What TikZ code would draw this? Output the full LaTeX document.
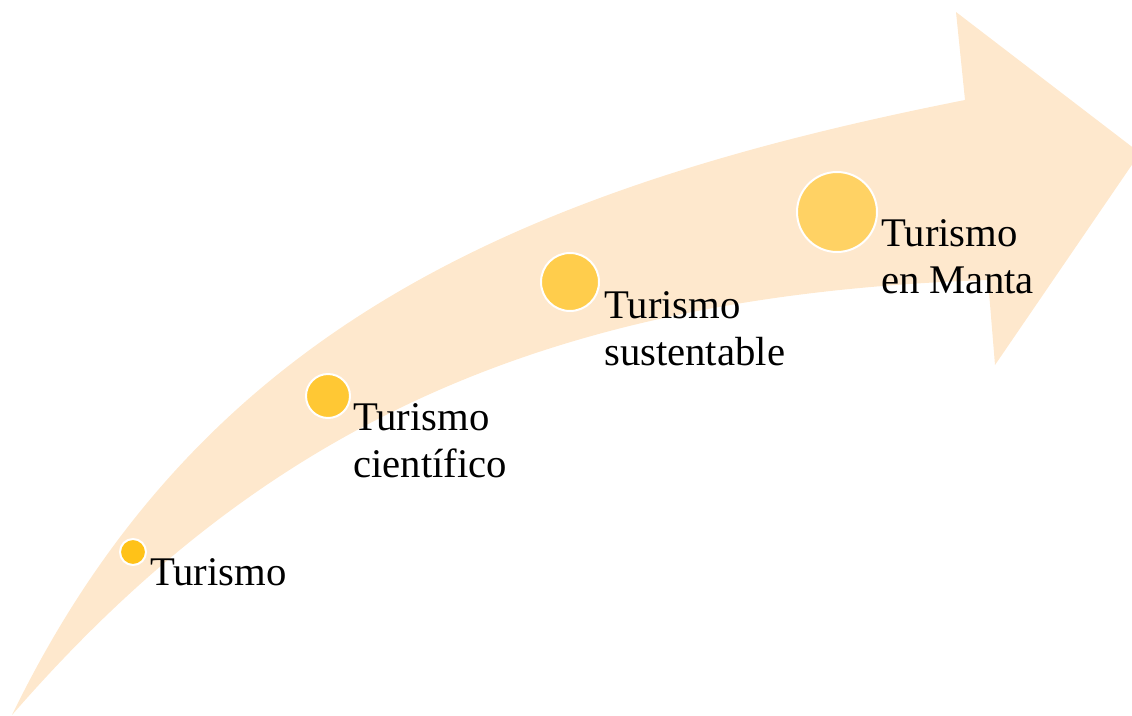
\documentclass[tikz,border=0pt]{standalone}
\usepackage{fontspec}
\setmainfont{Liberation Serif}
\newfontfamily\lblfont{Liberation Serif}
\definecolor{arrowfill}{RGB}{254,232,205}
\definecolor{dotA}{RGB}{255,194,24}
\definecolor{dotB}{RGB}{255,200,52}
\definecolor{dotC}{RGB}{255,205,76}
\definecolor{dotD}{RGB}{255,210,100}
\tikzset{
  dot/.style={circle, draw=white, line width=2pt, inner sep=0pt},
  lbl/.style={anchor=base west, inner sep=0pt, align=left, font=\lblfont\fontsize{40.7}{47}\selectfont, text=black},
}
\begin{document}
\begin{tikzpicture}[x=1pt,y=-1pt]
\useasboundingbox (0,0) rectangle (1132,715);
\begin{scope}
\clip (0,0) rectangle (1132,715);
\fill[arrowfill]
  (12,715) .. controls (200,328) and (520,188) .. (965,100)
  -- (956,12) -- (1140,153) -- (995,365) -- (988,280)
  .. controls (540,295) and (260,430) .. (12,715)
  -- cycle;
\end{scope}
\node[dot, fill=dotA, minimum size=26pt] (c1) at (133,552) {};
\node[dot, fill=dotB, minimum size=44pt] (c2) at (328,396) {};
\node[dot, fill=dotC, minimum size=58pt] (c3) at (570,282) {};
\node[dot, fill=dotD, minimum size=80pt] (c4) at (837,212) {};
\node[lbl] (t1) at (150,585) {Turismo};
\node[lbl] (t2) at (353,477) {Turismo\\científico};
\node[lbl] (t3) at (604,365) {Turismo\\sustentable};
\node[lbl] (t4) at (881,293) {Turismo\\en Manta};
\end{tikzpicture}
\end{document}
